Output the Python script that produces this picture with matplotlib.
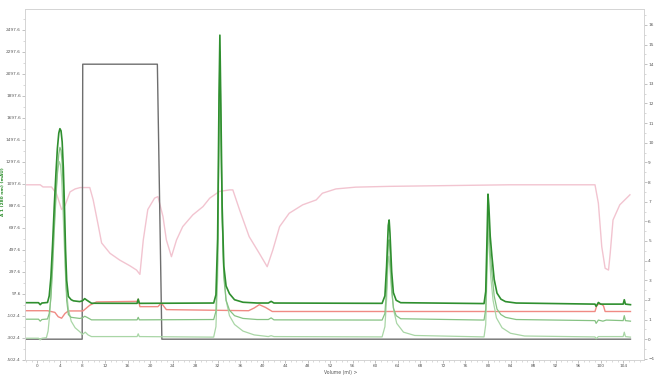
import numpy as np
import matplotlib
matplotlib.use("Agg")
from matplotlib import pyplot as plt
from matplotlib.ticker import MultipleLocator, FixedLocator


# UV 280 nm trace (mAU, left axis)
uv1_x = [-2.0, 0.2, 0.5, 0.8, 1.8, 2.1, 2.4, 2.7, 3.0, 3.3, 3.55, 3.8, 4.0, 4.2, 4.4, 4.6, 4.8, 5.0, 5.2, 5.5,
         6.0, 6.4, 7.5, 8.0, 8.4, 8.8, 9.6,
         17.7, 17.9, 18.1, 31.3, 31.7, 32.0, 32.25, 32.4, 32.55, 32.8, 33.1, 33.5, 34.1, 35.0, 36.5, 39.0,
         41.0, 41.5, 42.0,
         61.2, 61.7, 62.0, 62.3, 62.45, 62.6, 62.9, 63.2, 63.7, 64.5,
         79.3, 79.6, 79.85, 80.0, 80.15, 80.4, 80.7, 81.1, 81.6, 82.3, 83.1, 85.0,
         99.0, 99.2, 99.6, 100.0, 104.0, 104.2, 104.4, 105.3]
uv1_y = [18, 18, 0, 15, 20, 80, 250, 550, 900, 1200, 1420, 1560, 1600, 1580, 1480, 1250, 900, 500, 220, 75,
         45, 35, 28, 35, 55, 40, 13,
         12, 50, 12, 15, 90, 600, 1900, 2450, 1900, 900, 350, 170, 100, 45, 22, 15,
         15, 30, 15,
         12, 80, 350, 720, 770, 650, 300, 110, 40, 18,
         10, 120, 650, 1005, 900, 620, 440, 230, 105, 50, 28, 15,
         5, -15, 20, 5, 5, 45, 5, 0]

# second UV trace
uv2_x = [-2.0, 0.2, 0.5, 0.8, 1.8, 2.1, 2.4, 2.7, 3.0, 3.3, 3.55, 3.8, 4.0, 4.2, 4.4, 4.6, 4.8, 5.0, 5.2, 5.5,
         6.0, 7.5, 8.0, 8.4, 8.8, 9.6,
         17.7, 17.9, 18.1, 31.3, 31.7, 32.0, 32.25, 32.4, 32.55, 32.8, 33.1, 33.5, 34.1, 35.0, 36.5, 39.0,
         41.0, 41.5, 42.0,
         61.2, 61.7, 62.0, 62.3, 62.45, 62.6, 62.9, 63.2, 63.7, 64.5,
         79.3, 79.6, 79.85, 80.0, 80.15, 80.4, 80.7, 81.1, 81.6, 82.3, 83.1, 85.0,
         99.0, 99.2, 99.6, 100.4, 101.0, 104.0, 104.2, 104.4, 105.3]
uv2_y = [-132, -132, -150, -135, -130, -80, 60, 330, 680, 980, 1200, 1370, 1430, 1400, 1280, 1050, 700, 320, 40, -90,
         -115, -125, -120, -105, -115, -138,
         -138, -115, -138, -135, -60, 400, 1700, 2300, 1750, 800, 250, 40, -50, -100, -125, -135,
         -135, -120, -138,
         -140, -80, 150, 540, 590, 480, 150, -30, -100, -128,
         -140, -40, 450, 830, 720, 470, 290, 80, -40, -90, -115, -135,
         -145, -170, -140, -150, -140, -145, -100, -145, -150]

# third UV trace
uv3_x = [-2.0, 0.2, 0.5, 0.8, 1.6, 1.9, 2.2, 2.5, 2.8, 3.1, 3.4, 3.65, 3.9, 4.1, 4.3, 4.5, 4.7, 4.9, 5.1, 5.5,
         6.0, 6.7, 7.5, 8.0, 8.5, 9.0, 9.6,
         17.7, 17.9, 18.1, 31.3, 31.7, 32.0, 32.25, 32.4, 32.55, 32.8, 33.1, 33.5, 34.1, 35.0, 36.5, 38.5,
         41.0, 41.5, 42.0,
         61.2, 61.7, 62.0, 62.25, 62.4, 62.6, 62.9, 63.3, 63.8, 65.0, 67.0,
         79.3, 79.6, 79.85, 80.0, 80.2, 80.5, 80.9, 81.5, 82.5, 84.0, 86.5,
         99.0, 99.2, 99.6, 104.0, 104.2, 104.4, 105.3]
uv3_y = [-305, -305, -320, -305, -300, -240, -80, 200, 550, 850, 1100, 1240, 1300, 1270, 1150, 920, 650, 380, 150, -40,
         -150, -210, -245, -270, -250, -275, -290,
         -290, -265, -290, -295, -200, 250, 1500, 2150, 1600, 800, 300, 40, -100, -180, -240, -275,
         -290, -282, -290,
         -293, -200, 50, 400, 440, 330, 120, -60, -170, -250, -280,
         -293, -180, 350, 700, 520, 250, 40, -120, -210, -260, -285,
         -293, -310, -290, -290, -250, -290, -295]

# salmon trace (left axis)
sal_x = [-2.0, 1.8, 3.1, 3.7, 4.3, 4.9, 5.5, 8.1, 9.3, 10.5, 17.7, 17.9, 18.2, 21.4, 22.0, 22.9,
         37.5, 38.5, 39.4, 40.5, 41.7, 99.0, 99.3, 99.6, 100.1, 100.5, 100.8, 105.3]
sal_y = [-55, -55, -70, -110, -123, -80, -57, -57, -5, 25, 30, 50, -18, -18, 15, -45,
         -55, -30, 0, -25, -62, -62, -10, 5, 5, -10, -62, -62]

# conductivity (right axis)
cond_x = [-2.0, 0.5, 1.0, 2.5, 3.4, 4.3, 4.9, 5.8, 6.7, 7.6, 9.3, 9.9, 10.8, 11.4, 12.9, 14.6, 16.4, 17.6, 18.2,
          18.8, 19.6, 20.8, 21.4, 22.3, 22.9, 23.8, 24.7, 25.8, 27.6, 29.4, 30.6, 32.3, 34.1, 34.7,
          35.9, 37.6, 39.4, 40.8, 41.8, 43.0, 44.7, 47.1, 49.5, 50.6, 53.0, 56.5, 62.4, 73.0, 83.7,
          99.0, 99.6, 100.2, 100.8, 101.4, 101.7, 102.2, 103.4, 105.2]
cond_y = [7.86, 7.86, 7.75, 7.75, 7.4, 6.6, 6.8, 7.5, 7.65, 7.72, 7.72, 7.1, 5.8, 4.9, 4.37, 4.03, 3.74, 3.52, 3.3,
          5.05, 6.6, 7.18, 7.26, 6.24, 5.05, 4.2, 5.05, 5.73, 6.33, 6.75, 7.18, 7.52, 7.6, 7.6,
          6.58, 5.22, 4.37, 3.69, 4.54, 5.73, 6.41, 6.84, 7.09, 7.43, 7.65, 7.74, 7.78, 7.82, 7.86,
          7.86, 6.92, 4.71, 3.61, 3.52, 4.37, 6.07, 6.84, 7.35]

# gradient / fraction step (right axis)
step_x = [-2.0, 7.95, 8.05, 21.3, 22.1, 105.3]
step_y = [0, 0, 14, 14, 0, 0]

left_ticks = [97.6 + 200 * k for k in range(-3, 13)]
right_ticks = list(range(-1, 17))
x_ticks = list(range(0, 105, 4))

fig = plt.figure(figsize=(6.54, 3.75), dpi=100)
ax = fig.add_axes([25 / 654, 1 - 360 / 375, 619 / 654, 351 / 375])
ax2 = ax.twinx()

ax2.plot(cond_x, cond_y, color="#f2c4d0", lw=1.0)
ax2.plot(step_x, step_y, color="#6e6e6e", lw=1.0)
ax.plot(sal_x, sal_y, color="#f08a84", lw=1.0)
ax.plot(uv3_x, uv3_y, color="#a9d6a6", lw=0.9)
ax.plot(uv2_x, uv2_y, color="#86c283", lw=0.9)
ax.plot(uv1_x, uv1_y, color="#2f8f2f", lw=1.2)
ax.set_zorder(ax2.get_zorder() + 1)
ax.patch.set_visible(False)

ax.set_xlim(-2.2, 107.7)
ax.set_ylim(-503, 2688)
ax2.set_ylim(-1.06, 16.81)

ax.xaxis.set_major_locator(FixedLocator(x_ticks))
ax.xaxis.set_minor_locator(MultipleLocator(1))
ax.yaxis.set_major_locator(FixedLocator(left_ticks))
ax.yaxis.set_minor_locator(FixedLocator([v + 100 for v in left_ticks]))
ax.set_yticklabels([f"{v:.1f}" for v in left_ticks])
ax2.yaxis.set_major_locator(FixedLocator(right_ticks))
ax2.yaxis.set_minor_locator(MultipleLocator(0.5))

for a in (ax, ax2):
    for s in a.spines.values():
        s.set_color("#d4d4d4")
        s.set_linewidth(0.6)
    a.tick_params(which="major", length=2, width=0.5, color="#aaaaaa", labelsize=3.1,
                  labelcolor="#555555", pad=1.0)
    a.tick_params(which="minor", length=1.2, width=0.4, color="#bbbbbb")

fig.text(0.004, 0.49, "A 1 (280 nm) (mAU)", rotation=90, color="#2f8f2f", fontsize=3.2,
         ha="center", va="center", fontweight="bold")
fig.text(341 / 654, 0.006, "Volume (ml) >", color="#555555", fontsize=3.3, ha="center", va="center")

fig.savefig("out.png", dpi=100, facecolor="white")
